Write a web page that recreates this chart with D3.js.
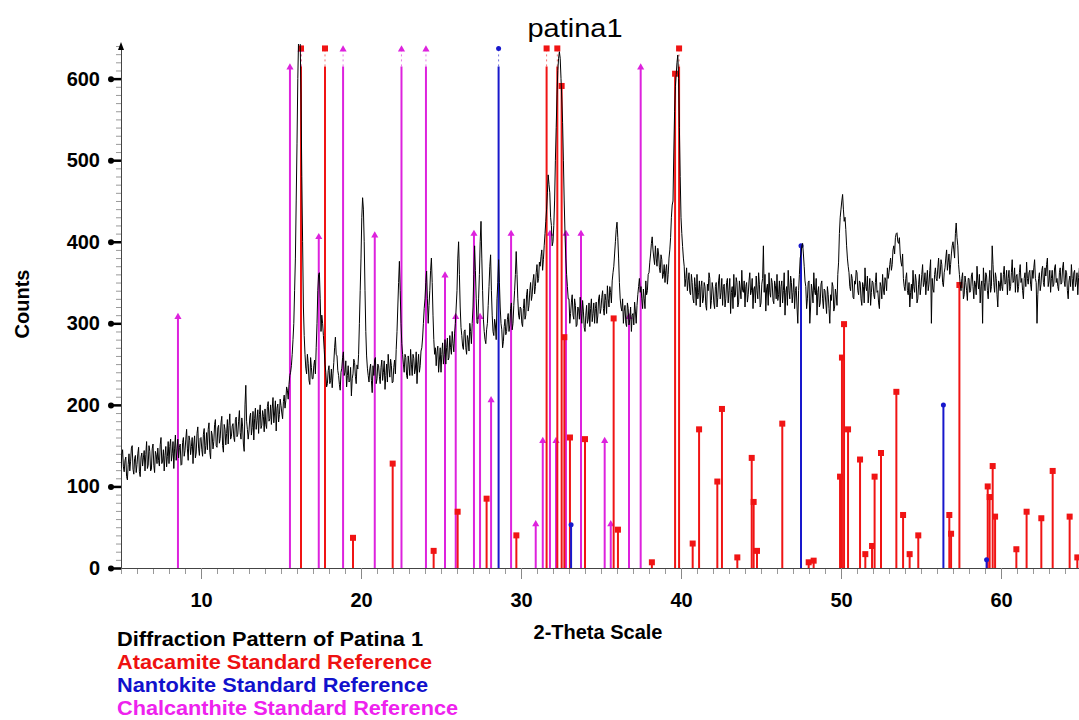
<!DOCTYPE html>
<html>
<head>
<meta charset="utf-8">
<script src="https://cdn.jsdelivr.net/npm/d3@7"></script>
<style>
body { margin: 0; background: #fff; }
svg { display: block; font-family: Arial, "Liberation Sans", sans-serif; }
</style>
</head>
<body>
<svg id="chart"></svg>
<script>
// ---------------- data ----------------

// measured pattern, counts at 5.0, 5.1, ... 65.0 deg
const patternStart = 5.0;
const patternStep = 0.1;
const patternCounts = [
  122,145,118,136,108,140,131,150,115,138,
  127,148,112,141,135,119,155,126,143,121,
  152,117,139,147,125,160,131,119,149,137,
  128,158,140,122,163,146,135,152,127,160,
  144,170,132,156,149,128,162,141,173,138,
  160,137,171,150,145,178,134,163,155,182,
  148,175,159,186,142,170,165,152,189,161,
  177,155,185,164,193,158,174,143,224,170,
  168,190,172,157,196,181,165,200,175,186,
  195,171,204,183,176,209,190,168,201,188,
  199,183,212,205,218,225,240,262,300,380,
  520,650,645,480,320,262,238,251,225,246,
  232,255,270,340,362,290,300,268,240,226,
  248,230,221,252,283,260,236,218,245,265,
  240,222,248,230,211,238,252,226,244,300,
  380,454,400,290,245,228,250,215,236,258,
  232,248,226,255,240,219,250,262,234,248,
  228,255,268,320,376,300,262,240,258,232,
  250,268,236,257,244,226,262,248,270,300,
  330,364,300,340,380,310,262,248,272,255,
  240,276,262,250,282,258,270,290,265,300,
  340,400,320,285,268,292,262,280,300,275,
  320,395,330,300,360,425,340,290,275,300,
  345,384,310,285,298,330,378,320,292,278,
  305,290,312,298,325,300,340,388,330,305,
  318,296,330,310,342,322,350,335,360,345,
  372,355,370,390,378,410,440,482,460,420,
  400,450,540,610,633,600,546,450,380,345,
  330,312,335,305,322,298,318,332,300,315,
  290,322,305,296,330,312,300,326,309,335,
  318,340,310,328,346,320,338,352,370,400,
  424,380,330,315,300,322,296,318,305,290,
  312,326,300,335,355,345,318,330,352,340,
  362,385,406,380,395,370,385,362,378,360,
  350,372,360,390,430,450,560,605,629,540,
  430,394,370,355,340,362,335,350,325,345,
  360,338,320,352,330,345,316,340,355,328,
  342,318,350,332,360,338,322,348,330,355,
  340,312,345,360,334,350,325,342,365,338,
  320,350,335,362,340,318,345,358,330,348,
  325,355,338,315,348,362,332,350,324,346,
  360,335,320,352,340,310,345,365,330,350,
  338,318,345,300,360,385,398,370,345,330,
  352,320,340,362,335,310,345,325,352,318,
  340,312,335,300,328,345,320,335,360,410,
  440,458,425,415,380,362,340,355,330,348,
  362,335,350,322,345,368,340,325,355,338,
  350,330,362,340,318,345,360,335,352,368,
  362,380,372,395,405,411,398,385,370,355,
  340,362,335,320,348,365,338,352,330,360,
  345,372,350,335,365,348,378,355,338,368,
  352,380,360,372,345,368,390,375,360,385,
  400,380,423,395,360,340,362,335,350,328,
  355,340,362,330,348,370,342,325,352,368,
  340,358,330,365,345,372,338,355,320,348,
  362,340,370,350,335,365,345,378,352,338,
  360,345,372,355,330,362,375,348,365,340,
  355,378,350,335,362,348,370,345,358,380,
  352,338,365,348,372,355,340,368,350,375,
  345,362,330,358,372,340,365,350,335,368,
  352
];
// counts in between, at 5.05, 5.15, ... 64.95 deg
const patternMidCounts = [
  139,124,132,112,127,119,147,121,134,117,
  140,118,136,125,144,139,122,150,119,146,
  126,143,128,132,151,128,145,138,124,155,
  149,131,155,147,132,158,148,126,154,137,
  158,146,162,139,160,152,135,165,147,159,
  145,164,140,166,170,142,168,146,176,150,
  172,153,178,150,176,151,182,175,158,174,
  160,182,161,180,166,184,152,200,180,158,
  185,163,192,183,170,194,188,171,193,167,
  176,198,180,200,195,178,205,196,179,207,
  190,204,196,222,207,236,248,280,340,450,
  600,660,580,400,285,245,262,230,258,232,
  248,238,300,360,330,310,285,250,222,242,
  226,244,238,270,262,242,225,240,258,236,
  254,236,228,246,232,256,235,249,262,340,
  430,440,340,260,236,244,230,248,255,226,
  250,235,246,230,254,236,228,245,256,227,
  246,238,290,350,340,275,250,262,236,260,
  236,250,262,238,265,250,240,266,282,318,
  350,330,322,365,350,280,270,265,240,270,
  262,250,280,270,255,285,262,275,288,320,
  380,360,295,272,290,270,285,266,290,300,
  360,365,300,330,400,380,305,280,292,322,
  370,340,290,305,280,350,350,300,270,296,
  286,305,290,318,292,322,360,360,310,320,
  300,318,305,335,315,340,328,352,336,362,
  350,375,382,365,395,425,460,470,430,395,
  420,500,580,625,625,575,500,410,360,330,
  300,326,310,330,296,320,305,312,328,295,
  310,300,325,318,302,325,318,300,330,312,
  332,318,336,312,330,345,325,362,385,415,
  405,350,320,330,315,300,325,298,320,310,
  298,315,322,345,338,330,342,318,335,360,
  375,398,390,372,380,392,368,384,355,372,
  365,348,380,405,445,510,590,620,600,480,
  410,380,345,368,352,338,360,330,356,322,
  330,352,345,325,350,322,348,362,318,350,
  325,345,320,352,330,355,345,320,350,325,
  355,338,318,332,356,320,352,330,340,352,
  345,326,352,335,355,342,325,340,362,320,
  348,395,360,342,322,338,355,328,352,330,
  328,352,345,325,362,338,322,340,358,325,
  355,340,320,340,380,395,385,352,318,350,
  300,348,325,340,355,338,320,348,330,342,
  325,345,318,335,350,315,342,322,375,430,
  450,440,430,395,370,345,360,332,352,365,
  340,352,330,350,325,345,358,340,322,352,
  335,350,338,325,350,330,342,356,340,355,
  372,365,390,385,410,400,405,375,385,345,
  355,340,350,338,330,345,360,325,348,335,
  360,345,362,352,340,365,300,342,360,355,
  368,355,378,350,362,380,365,385,372,395,
  390,410,405,372,348,355,330,358,340,355,
  338,358,345,352,335,352,360,345,300,350,
  362,340,350,338,395,350,362,335,352,340,
  345,360,348,365,355,340,362,350,368,358,
  338,362,350,340,355,345,355,362,348,365,
  368,355,300,355,340,365,350,368,372,345,
  365,355,345,368,350,345,362,348,368,352,
  365,340,352,345,355,362,345,362,356,345
];

// standard reference sticks (2-theta, counts); 900 = off the top of the scale
const atacamitePos = [16.25, 17.75, 19.5, 21.98, 24.54, 26.04, 27.85, 29.71, 31.6, 32.27,
  32.54, 32.71, 33.06, 34.0, 35.79, 36.06, 38.18, 39.63, 39.88, 40.73,
  41.13, 42.27, 42.56, 43.52, 44.42, 44.54, 44.75, 46.33, 47.98, 48.29,
  49.94, 50.06, 50.19, 50.44, 51.19, 51.52, 51.94, 52.1, 52.5, 53.46,
  53.88, 54.29, 54.83, 56.77, 56.88, 57.4, 59.17, 59.29, 59.48, 59.63,
  60.96, 61.6, 62.52, 63.23, 64.29, 64.77];
const atacamiteCounts = [900, 900, 37, 128, 21, 69, 85, 40, 900, 900,
  591, 283, 160, 158, 306, 47, 7, 606, 900, 30,
  170, 106, 195, 13, 135, 81, 21, 177, 7, 9,
  112, 258, 299, 170, 133, 17, 27, 112, 141, 216,
  65, 17, 40, 65, 42, 347, 100, 87, 125, 63,
  23, 69, 61, 119, 63, 13];

const nantokitePos = [28.6, 33.13, 47.5, 56.4, 59.1];
const nantokiteCounts = [900, 53, 395, 200, 10];

const chalcanthitePos = [8.56, 15.56, 16.25, 17.36, 18.88, 20.86, 22.53, 24.06, 25.25, 25.92,
  27.06, 27.44, 28.13, 29.38, 30.92, 31.36, 31.81, 32.19, 32.81, 33.75,
  35.23, 35.61, 36.75, 37.48];
const chalcanthiteCounts = [309, 615, 900, 407, 900, 409, 900, 900, 360, 309,
  411, 309, 207, 411, 55, 157, 411, 157, 411, 411,
  157, 55, 309, 615];

const xTicks = [10, 20, 30, 40, 50, 60];
const yTicks = [0, 100, 200, 300, 400, 500, 600];

const legendLabels = ['Diffraction Pattern of Patina 1', 'Atacamite Standard Reference',
  'Nantokite Standard Reference', 'Chalcanthite Standard Reference'];
const legendColors = ['#000000', '#ee1111', '#1111cc', '#ee22ee'];
const legendWidths = [306, 315, 311, 341];

// ---------------- chart ----------------
const width = 1079;
const height = 720;
const svg = d3.select('#chart')
  .attr('width', width)
  .attr('height', height);

const yMax = 640;
const x = d3.scaleLinear().domain([5, 65]).range([121, 1081]);
const y = d3.scaleLinear().domain([0, yMax]).range([568, 46]);

svg.append('defs').append('clipPath').attr('id', 'plot')
  .append('rect')
  .attr('x', 121).attr('y', 44)
  .attr('width', 960).attr('height', 525);

// title
svg.append('text')
  .attr('x', 575).attr('y', 37)
  .attr('text-anchor', 'middle')
  .attr('font-size', 26)
  .attr('textLength', 95)
  .attr('lengthAdjust', 'spacingAndGlyphs')
  .text('patina1');

// minor ticks
svg.append('g')
  .attr('transform', 'translate(121,0)')
  .call(d3.axisLeft(y).tickValues(d3.range(0, yMax + 1, 10)).tickSize(5).tickFormat(''))
  .call(g => g.select('.domain').remove())
  .call(g => g.selectAll('line').attr('stroke', '#999'));

svg.append('g')
  .attr('transform', 'translate(0,568)')
  .call(d3.axisBottom(x).tickValues(d3.range(5, 66, 1)).tickSize(6).tickFormat(''))
  .call(g => g.select('.domain').remove())
  .call(g => g.selectAll('line').attr('stroke', '#999'));

// major y axis
const yAxis = svg.append('g')
  .attr('transform', 'translate(121,0)')
  .call(d3.axisLeft(y).tickValues(yTicks).tickSize(10).tickSizeOuter(0).tickPadding(11));
yAxis.select('.domain').attr('stroke', '#444');
yAxis.selectAll('.tick line').attr('stroke', '#000').attr('stroke-width', 2.5);
yAxis.selectAll('.tick').append('circle').attr('cx', -10).attr('r', 3).attr('fill', '#000');
yAxis.selectAll('.tick text')
  .attr('font-size', 20).attr('font-weight', 'bold').attr('fill', '#000')
  .attr('font-family', 'Arial, "Liberation Sans", sans-serif');

// major x axis
const xAxis = svg.append('g')
  .attr('transform', 'translate(0,568)')
  .call(d3.axisBottom(x).tickValues(xTicks).tickSize(11).tickSizeOuter(0).tickPadding(14));
xAxis.select('.domain').attr('stroke', '#444');
xAxis.selectAll('.tick line').attr('stroke', '#888');
xAxis.selectAll('.tick text')
  .attr('font-size', 20).attr('font-weight', 'bold').attr('fill', '#000')
  .attr('font-family', 'Arial, "Liberation Sans", sans-serif');

// arrow at top of y axis
svg.append('path')
  .attr('d', 'M121,42 L124,50 L118,50 Z')
  .attr('fill', '#000');

// axis titles
svg.append('text')
  .attr('transform', 'translate(29,304) rotate(-90)')
  .attr('text-anchor', 'middle')
  .attr('font-size', 20).attr('font-weight', 'bold')
  .text('Counts');

svg.append('text')
  .attr('x', 598).attr('y', 639)
  .attr('text-anchor', 'middle')
  .attr('font-size', 20).attr('font-weight', 'bold')
  .text('2-Theta Scale');

// reference sticks
const capVal = 615;
const topVal = 637;

function drawSticks(pos, counts, color, shape) {
  const g = svg.append('g');
  pos.forEach(function(p, i) {
    const v = counts[i];
    const over = v > yMax;
    const cx = x(p);
    g.append('line')
      .attr('x1', cx).attr('x2', cx)
      .attr('y1', y(0)).attr('y2', y(over ? capVal : v))
      .attr('stroke', color).attr('stroke-width', 2);
    if (over) {
      g.append('line')
        .attr('x1', cx).attr('x2', cx)
        .attr('y1', y(capVal)).attr('y2', y(topVal))
        .attr('stroke', color).attr('stroke-width', 1)
        .attr('stroke-dasharray', '2,3').attr('opacity', 0.6);
    }
    const my = y(over ? topVal : v);
    if (shape === 'square') {
      g.append('rect').attr('x', cx - 3).attr('y', my - 3)
        .attr('width', 6).attr('height', 6).attr('fill', color);
    } else if (shape === 'triangle') {
      g.append('path')
        .attr('d', d3.symbol(d3.symbolTriangle).size(22)())
        .attr('transform', 'translate(' + cx + ',' + (my + 1) + ')')
        .attr('fill', color);
    } else {
      g.append('circle').attr('cx', cx).attr('cy', my).attr('r', 2.5).attr('fill', color);
    }
  });
}

drawSticks(chalcanthitePos, chalcanthiteCounts, '#dd22dd', 'triangle');
drawSticks(atacamitePos, atacamiteCounts, '#f01414', 'square');
drawSticks(nantokitePos, nantokiteCounts, '#1818cc', 'circle');

// measured pattern: merge the two read-off series in 2-theta order
const patternPoints = [];
patternCounts.forEach(function(c, i) {
  const t = patternStart + i * patternStep;
  patternPoints.push([t, c]);
  if (i < patternMidCounts.length) patternPoints.push([t + patternStep / 2, patternMidCounts[i]]);
});

const line = d3.line()
  .x(d => x(d[0]))
  .y(d => y(d[1]));

svg.append('path')
  .datum(patternPoints)
  .attr('clip-path', 'url(#plot)')
  .attr('d', line)
  .attr('fill', 'none')
  .attr('stroke', '#000')
  .attr('stroke-width', 1)
  .attr('stroke-linejoin', 'round');

// legend
const legendBase = [646, 669, 692, 715];
legendLabels.forEach(function(t, i) {
  svg.append('text')
    .attr('x', 117).attr('y', legendBase[i])
    .attr('font-size', 20).attr('font-weight', 'bold')
    .attr('fill', legendColors[i])
    .attr('textLength', legendWidths[i])
    .attr('lengthAdjust', 'spacingAndGlyphs')
    .text(t);
});
</script>
</body>
</html>
